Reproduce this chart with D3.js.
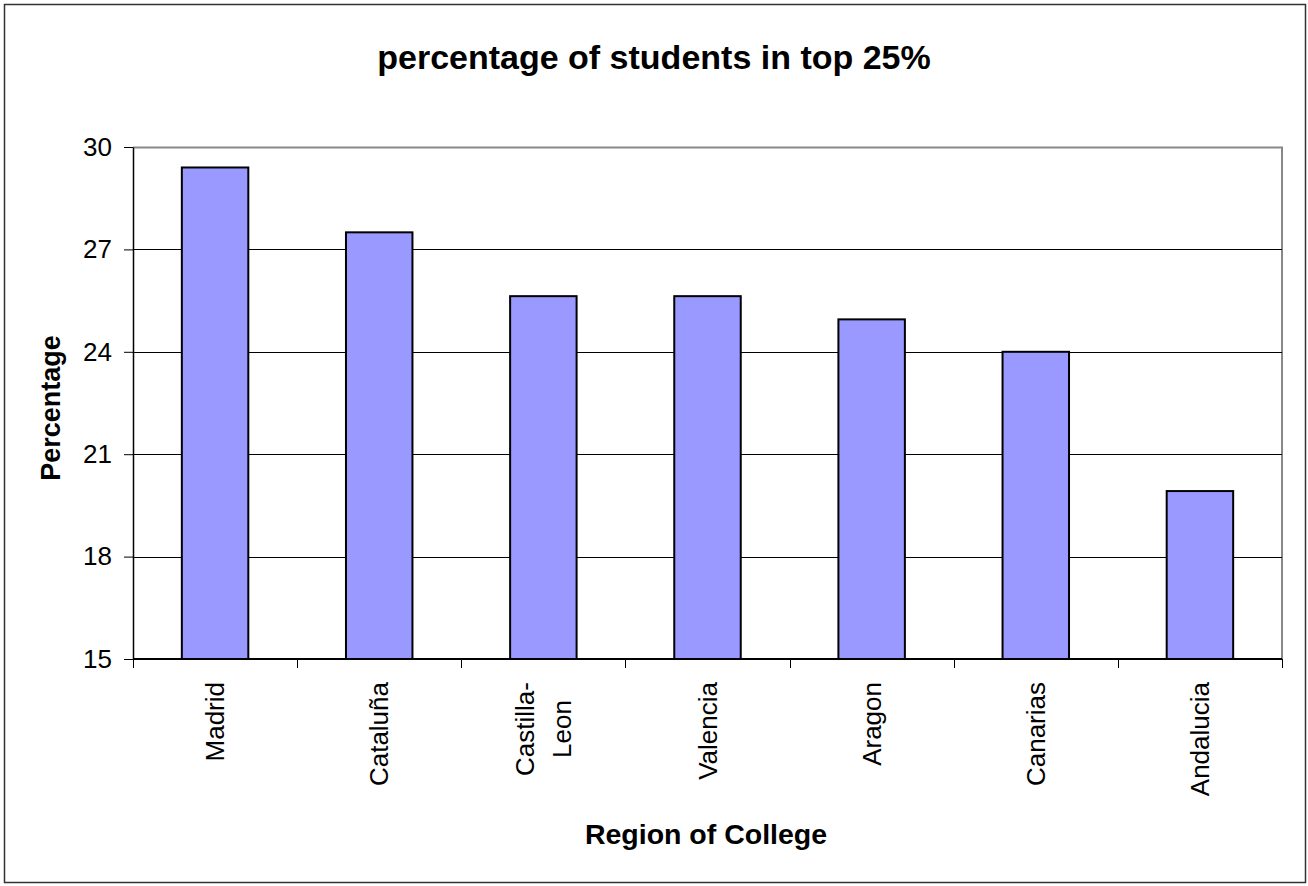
<!DOCTYPE html>
<html>
<head>
<meta charset="utf-8">
<script src="https://cdn.jsdelivr.net/npm/d3@7"></script>
<style>
  body { margin: 0; background: #ffffff; }
  svg { display: block; font-family: 'Liberation Sans', Arial, sans-serif; }
</style>
</head>
<body>
<div id="chart"></div>
<script>
// data
const regions = ['Madrid', 'Cataluña', 'Castilla-Leon', 'Valencia', 'Aragon', 'Canarias', 'Andalucia'];
const regionLines = [['Madrid'], ['Cataluña'], ['Castilla-', 'Leon'], ['Valencia'], ['Aragon'], ['Canarias'], ['Andalucia']];
const percentages = [29.4, 27.5, 25.63, 25.63, 24.95, 24.0, 19.92];
const yTicks = [15, 18, 21, 24, 27, 30];

const W = 1308, H = 886;
const margin = { top: 147, right: 26, bottom: 227, left: 133 };
const width = W - margin.left - margin.right;
const height = H - margin.top - margin.bottom;

const svg = d3.select('#chart')
  .append('svg')
    .attr('width', W)
    .attr('height', H);

// outer frame
svg.append('rect')
  .attr('x', 4.5).attr('y', 4.5)
  .attr('width', W - 7).attr('height', H - 8)
  .style('fill', '#ffffff')
  .style('stroke', '#333333')
  .style('stroke-width', 1.5);

const g = svg.append('g')
  .attr('transform', 'translate(' + margin.left + ',' + margin.top + ')');

const x = d3.scaleBand()
  .domain(regions)
  .range([0, width])
  .paddingInner(0.595)
  .paddingOuter(0.2975);

const y = d3.scaleLinear()
  .domain([15, 30])
  .range([height, 0]);

// plot frame (gray top/right)
g.append('path')
  .attr('d', 'M0,0.5H' + width + 'V' + height)
  .style('fill', 'none')
  .style('stroke', '#888888')
  .style('stroke-width', 2);

// gridlines
g.append('g')
  .selectAll('line')
  .data(yTicks.filter(t => t !== 30 && t !== 15))
  .enter()
  .append('line')
    .attr('x1', 0).attr('x2', width)
    .attr('y1', d => Math.round(y(d)) + 0.5)
    .attr('y2', d => Math.round(y(d)) + 0.5)
    .style('stroke', '#000000')
    .style('stroke-width', 1);

// bars
g.append('g')
  .selectAll('rect')
  .data(regions)
  .enter()
  .append('rect')
    .attr('x', d => x(d))
    .attr('y', (d, i) => y(percentages[i]))
    .attr('width', x.bandwidth())
    .attr('height', (d, i) => height - y(percentages[i]))
    .style('fill', '#9999ff')
    .style('stroke', '#000000')
    .style('stroke-width', 2);

// y axis
const yAxis = g.append('g')
  .call(d3.axisLeft(y).tickValues(yTicks).tickSize(9).tickPadding(12).tickSizeOuter(0));
yAxis.select('.domain').style('stroke', '#000000').style('stroke-width', 1.5);
yAxis.selectAll('.tick line').style('stroke', '#000000');
yAxis.selectAll('.tick text')
  .style('font-size', '26px')
  .style('font-family', 'Liberation Sans, Arial, sans-serif')
  .style('fill', '#000000');

// x axis: ticks at category boundaries
const step = width / regions.length;
const xAxisG = g.append('g')
  .attr('transform', 'translate(0,' + height + ')');
xAxisG.append('line')
  .attr('x1', 0).attr('x2', width)
  .attr('y1', 0).attr('y2', 0)
  .style('stroke', '#000000')
  .style('stroke-width', 2);
xAxisG.selectAll('.xtick')
  .data(d3.range(regions.length + 1))
  .enter()
  .append('line')
    .attr('x1', d => Math.round(d * step) + 0.5)
    .attr('x2', d => Math.round(d * step) + 0.5)
    .attr('y1', 0).attr('y2', 9)
    .style('stroke', '#000000');

// category labels, rotated; multi-line labels centred on the longest line
const labels = xAxisG.selectAll('.xlabel')
  .data(regions)
  .enter()
  .append('g')
    .attr('transform', d => 'translate(' + (x(d) + x.bandwidth() / 2) + ',23) rotate(-90)');
labels.each(function(d, i) {
  const lines = regionLines[i];
  const n = lines.length;
  const texts = d3.select(this).selectAll('text')
    .data(lines)
    .enter()
    .append('text')
      .attr('y', (t, j) => (j - (n - 1) / 2) * 37)
      .attr('dy', '0.35em')
      .attr('text-anchor', 'middle')
      .style('font-size', '26px')
      .style('fill', '#000000')
      .text(t => t);
  let maxW = 0;
  texts.each(function() { maxW = Math.max(maxW, this.getComputedTextLength()); });
  texts.attr('x', -maxW / 2);
});

// title
svg.append('text')
  .attr('x', 654)
  .attr('y', 69)
  .attr('text-anchor', 'middle')
  .style('font-size', '34px')
  .style('font-weight', 'bold')
  .text('percentage of students in top 25%');

// axis titles
svg.append('text')
  .attr('x', 706)
  .attr('y', 844)
  .attr('text-anchor', 'middle')
  .style('font-size', '28.5px')
  .style('font-weight', 'bold')
  .text('Region of College');

svg.append('text')
  .attr('transform', 'translate(60,' + (margin.top + height / 2 + 5) + ') rotate(-90)')
  .attr('text-anchor', 'middle')
  .style('font-size', '27px')
  .style('font-weight', 'bold')
  .text('Percentage');
</script>
</body>
</html>
